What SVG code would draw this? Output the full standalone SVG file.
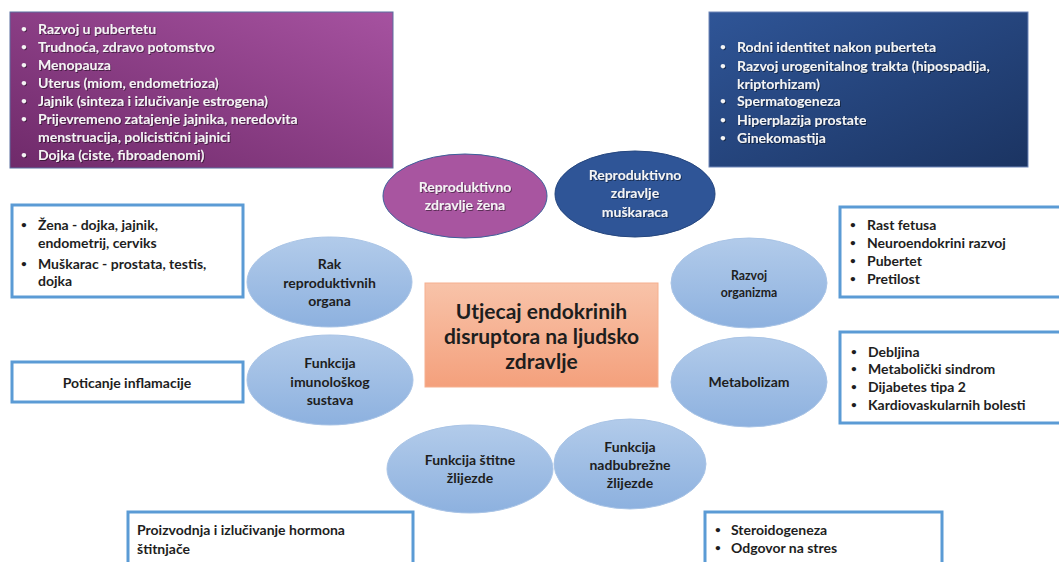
<svg xmlns="http://www.w3.org/2000/svg" width="1059" height="562" viewBox="0 0 1059 562">
<defs>
<linearGradient id="gPurple" x1="0" y1="1" x2="1" y2="0">
<stop offset="0" stop-color="#6F2A6A"/>
<stop offset="1" stop-color="#A652A0"/>
</linearGradient>
<linearGradient id="gBlue" x1="0" y1="0" x2="1" y2="1">
<stop offset="0" stop-color="#2F5597"/>
<stop offset="1" stop-color="#1B3462"/>
</linearGradient>
<linearGradient id="gLight" x1="0" y1="0" x2="0" y2="1">
<stop offset="0" stop-color="#B2CBEA"/>
<stop offset="1" stop-color="#8DB1DF"/>
</linearGradient>
<linearGradient id="gSalmon" x1="0" y1="0" x2="0" y2="1">
<stop offset="0" stop-color="#F8C3A9"/>
<stop offset="1" stop-color="#F4A07C"/>
</linearGradient>
<filter id="sh" x="-5%" y="-5%" width="110%" height="110%">
<feDropShadow dx="1" dy="1" stdDeviation="0.6" flood-color="#000" flood-opacity="0.45"/>
</filter>
</defs>
<style>
text{font-family:Lato,"Liberation Sans",sans-serif;font-weight:700}
.w{fill:#F4F4F4;font-size:14px}
.d{fill:#1E1E1E;font-size:14px}
.e{fill:#1E1E1E;font-size:14px;text-anchor:middle}
.ew{fill:#F4F4F4;font-size:14px;text-anchor:middle}
.b{font-size:10px}
.box{fill:#FFFFFF;stroke:#5B9BD5;stroke-width:3}
.ell{fill:url(#gLight);stroke:#A9C4E6;stroke-width:1}
</style>
<rect width="1059" height="562" fill="#FFFFFF"/>

<g id="box-zene">
<rect x="10" y="12" width="383" height="156" fill="url(#gPurple)" stroke="#5A6FA0" stroke-width="1"/>
<g class="w" filter="url(#sh)">
<text class="b" x="21" y="32">•</text><text x="38" y="34">Razvoj u pubertetu</text>
<text class="b" x="21" y="50">•</text><text x="38" y="52">Trudnoća, zdravo potomstvo</text>
<text class="b" x="21" y="68">•</text><text x="38" y="70">Menopauza</text>
<text class="b" x="21" y="86">•</text><text x="38" y="88">Uterus (miom, endometrioza)</text>
<text class="b" x="21" y="104">•</text><text x="38" y="106">Jajnik (sinteza i izlučivanje estrogena)</text>
<text class="b" x="21" y="122">•</text><text x="38" y="124">Prijevremeno zatajenje jajnika, neredovita</text>
<text x="38" y="142">menstruacija, policistični jajnici</text>
<text class="b" x="21" y="158">•</text><text x="38" y="160">Dojka (ciste, fibroadenomi)</text>
</g>
</g>

<g id="box-muskarci">
<rect x="709" y="12" width="319" height="155" fill="url(#gBlue)" stroke="#6F86B8" stroke-width="1"/>
<g class="w" filter="url(#sh)">
<text class="b" x="720" y="50">•</text><text x="737" y="52">Rodni identitet nakon puberteta</text>
<text class="b" x="720" y="69">•</text><text x="737" y="71">Razvoj urogenitalnog trakta (hipospadija,</text>
<text x="737" y="89">kriptorhizam)</text>
<text class="b" x="720" y="104">•</text><text x="737" y="106">Spermatogeneza</text>
<text class="b" x="720" y="123">•</text><text x="737" y="125">Hiperplazija prostate</text>
<text class="b" x="720" y="141">•</text><text x="737" y="143">Ginekomastija</text>
</g>
</g>

<g id="ell-zene">
<ellipse cx="465" cy="196" rx="82" ry="42" fill="#A855A0" stroke="#3E5F9A" stroke-width="1"/>
<g class="ew" filter="url(#sh)">
<text x="465" y="192">Reproduktivno</text>
<text x="465" y="210">zdravlje žena</text>
</g>
</g>

<g id="ell-muskarci">
<ellipse cx="635" cy="194" rx="80" ry="43" fill="#2F5597" stroke="#25467E" stroke-width="1"/>
<g class="ew" filter="url(#sh)">
<text x="635" y="180">Reproduktivno</text>
<text x="635" y="198">zdravlje</text>
<text x="635" y="217">muškaraca</text>
</g>
</g>

<g id="center">
<rect x="425" y="283" width="233" height="104" fill="url(#gSalmon)" stroke="#F6B08F" stroke-width="1"/>
<g style="font-size:21px;fill:#1E1E1E;text-anchor:middle">
<text x="541.5" y="319">Utjecaj endokrinih</text>
<text x="541.5" y="344">disruptora na ljudsko</text>
<text x="541.5" y="369">zdravlje</text>
</g>
</g>

<g id="ell-rak">
<ellipse class="ell" cx="329.5" cy="282" rx="82.5" ry="45"/>
<text class="e" x="329.5" y="269">Rak</text>
<text class="e" x="329.5" y="288">reproduktivnih</text>
<text class="e" x="329.5" y="306">organa</text>
</g>

<g id="ell-imuno">
<ellipse class="ell" cx="330" cy="380" rx="83" ry="45"/>
<text class="e" x="330" y="368">Funkcija</text>
<text class="e" x="330" y="387">imunološkog</text>
<text class="e" x="330" y="405">sustava</text>
</g>

<g id="ell-stitna">
<ellipse class="ell" cx="470" cy="469" rx="83" ry="44"/>
<text class="e" x="470" y="465">Funkcija štitne</text>
<text class="e" x="470" y="483">žlijezde</text>
</g>

<g id="ell-nadbubrezna">
<ellipse class="ell" cx="630" cy="464" rx="76" ry="45"/>
<text class="e" x="630" y="452">Funkcija</text>
<text class="e" x="630" y="470">nadbubrežne</text>
<text class="e" x="630" y="488">žlijezde</text>
</g>

<g id="ell-razvoj">
<ellipse class="ell" cx="749" cy="283" rx="78" ry="45"/>
<text class="e" x="749" y="280" style="font-size:12.3px">Razvoj</text>
<text class="e" x="749" y="297" style="font-size:12.3px">organizma</text>
</g>

<g id="ell-metabolizam">
<ellipse class="ell" cx="749" cy="382" rx="78" ry="45"/>
<text class="e" x="749" y="387">Metabolizam</text>
</g>

<g id="box-rak">
<rect class="box" x="12" y="205" width="231" height="92"/>
<g class="d">
<text class="b" x="21" y="228">•</text><text x="38" y="230">Žena - dojka, jajnik,</text>
<text x="38" y="248">endometrij, cerviks</text>
<text class="b" x="21" y="267">•</text><text x="38" y="269">Muškarac - prostata, testis,</text>
<text x="38" y="286">dojka</text>
</g>
</g>

<g id="box-imuno">
<rect class="box" x="12" y="362" width="231" height="40"/>
<text class="d" x="127" y="388" text-anchor="middle">Poticanje inflamacije</text>
</g>

<g id="box-razvoj">
<rect class="box" x="840" y="207" width="222" height="90"/>
<g class="d">
<text class="b" x="850" y="228">•</text><text x="867" y="230">Rast fetusa</text>
<text class="b" x="850" y="246">•</text><text x="867" y="248">Neuroendokrini razvoj</text>
<text class="b" x="850" y="264">•</text><text x="867" y="266">Pubertet</text>
<text class="b" x="850" y="282">•</text><text x="867" y="284">Pretilost</text>
</g>
</g>

<g id="box-metabolizam">
<rect class="box" x="840" y="332" width="222" height="91"/>
<g class="d">
<text class="b" x="851" y="355">•</text><text x="868" y="357">Debljina</text>
<text class="b" x="851" y="372">•</text><text x="868" y="374">Metabolički sindrom</text>
<text class="b" x="851" y="390">•</text><text x="868" y="392">Dijabetes tipa 2</text>
<text class="b" x="851" y="408">•</text><text x="868" y="410">Kardiovaskularnih bolesti</text>
</g>
</g>

<g id="box-stitna">
<rect class="box" x="128" y="512" width="285" height="60"/>
<g class="d">
<text x="137" y="535">Proizvodnja i izlučivanje hormona</text>
<text x="137" y="554">štitnjače</text>
</g>
</g>

<g id="box-nadbubrezna">
<rect class="box" x="705" y="512" width="237" height="60"/>
<g class="d">
<text class="b" x="715" y="533">•</text><text x="731" y="535">Steroidogeneza</text>
<text class="b" x="715" y="551">•</text><text x="731" y="553">Odgovor na stres</text>
</g>
</g>

<g id="connectors"></g>
</svg>
